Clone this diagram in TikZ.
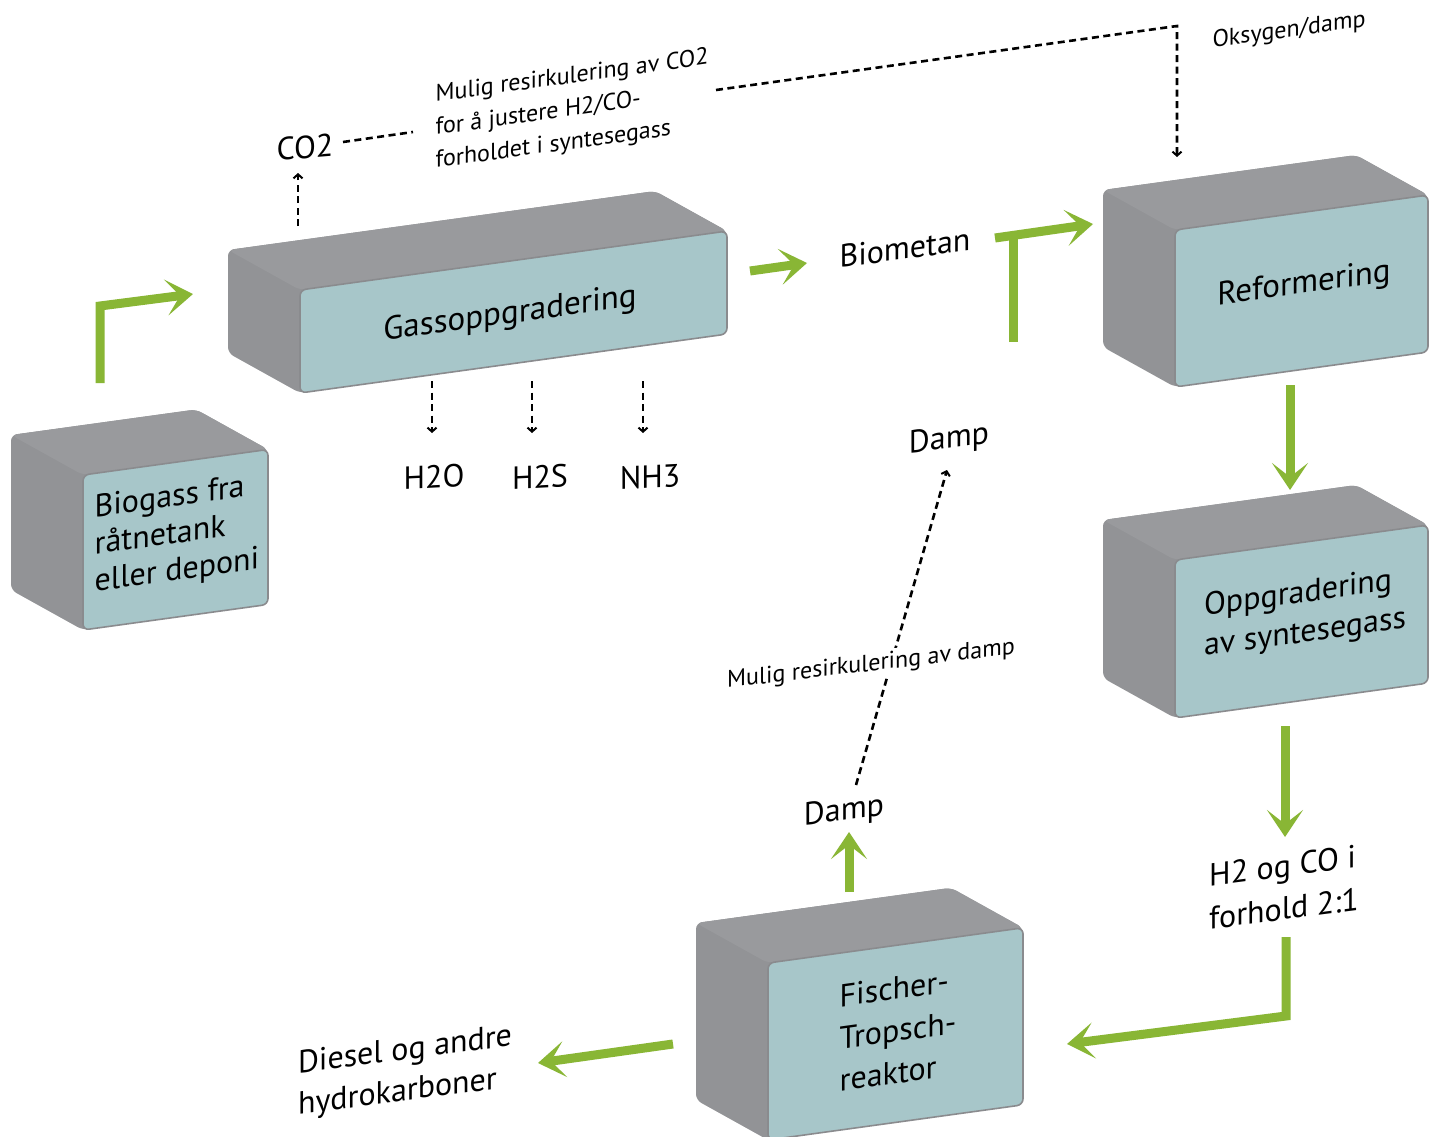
\documentclass[tikz,border=0pt]{standalone}
\usepackage{fontspec}
\setmainfont{PT Sans}
\usetikzlibrary{arrows.meta}
\definecolor{gside}{RGB}{146,147,150}
\definecolor{gtop}{RGB}{153,154,157}
\definecolor{face}{RGB}{167,198,201}
\definecolor{edgec}{RGB}{138,139,142}
\definecolor{grn}{RGB}{137,182,53}
\tikzset{
  boxtext/.style={font=\fontsize{33}{38}\selectfont, align=left, inner sep=0pt, yslant=0.138},
  biglbl/.style={font=\fontsize{32}{38}\selectfont, align=left, inner sep=0pt, yslant=0.13},
  smalllbl/.style={font=\fontsize{24}{33}\selectfont, align=left, inner sep=0pt, yslant=0.138},
  grnarrow/.style={draw=grn, line width=9pt, line join=miter,
    -{Stealth[length=27pt,width=36pt,inset=14pt]}},
  grnline/.style={draw=grn, line width=9pt},
  dashline/.style={draw=black, line width=2.6pt, dash pattern=on 7pt off 4.5pt},
  dasharrow/.style={dashline, -{Straight Barb[length=4pt,width=9pt,line width=2pt]}},
}
% name, x, y (front top-left), w, h
\newcommand\cubebox[5]{%
  \fill[gside, rounded corners=6pt] (#2-72,#3-40) -- (#2+#4-72,#3-0.138*#4-40) -- (#2+#4,#3-0.138*#4)
     -- (#2+#4,#3-0.138*#4+#5) -- (#2,#3+#5) -- (#2-72,#3+#5-40) -- cycle;
  \fill[gtop, rounded corners=6pt] (#2-72,#3-40) -- (#2+#4-72,#3-0.138*#4-40) -- (#2+#4,#3-0.138*#4)
     -- (#2,#3) -- cycle;
  \draw[edgec, line width=1.6pt, fill=face, rounded corners=6pt] (#2,#3) -- (#2+#4,#3-0.138*#4)
     -- (#2+#4,#3-0.138*#4+#5) -- (#2,#3+#5) -- cycle;
  \coordinate (#1-face) at (#2+#4/2, #3-0.069*#4+#5/2);
}
\begin{document}
\begin{tikzpicture}[x=1pt,y=-1pt]
\useasboundingbox (0,0) rectangle (1440,1137);
\fill[white] (0,0) rectangle (1440,1137);

% boxes
\cubebox{biogass}{83}{475}{185}{155}
\cubebox{gass}{300}{290}{427}{103}
\cubebox{reform}{1175}{230}{253}{157}
\cubebox{oppgr}{1175}{560}{253}{158}
\cubebox{ft}{768}{963}{255}{177}
\node[boxtext, font=\fontsize{32}{37}\selectfont] (biogass) at (177,535) {Biogass fra\\råtnetank\\eller deponi};
\node[boxtext] (gass) at (510,315) {Gassoppgradering};
\node[boxtext] (reform) at (1304,285) {Reformering};
\node[boxtext, font=\fontsize{32}{40}\selectfont] (oppgr) at (1305,614) {Oppgradering\\av syntesegass};
\node[boxtext, font=\fontsize{32}{42}\selectfont] (ft) at (898,1030) {Fischer-\\Tropsch-\\reaktor};

% labels
\node[biglbl, yslant=-0.05] (co2) at (305,147) {CO2};
\node[smalllbl] (recyc) at (572,110) {Mulig resirkulering av CO2\\for å justere H2/CO-\\forholdet i syntesegass};
\node[smalllbl] (oksy) at (1289,31) {Oksygen/damp};
\node[biglbl] (biometan) at (905,248) {Biometan};
\node[biglbl, yslant=-0.08] (h2o) at (434,477) {H2O};
\node[biglbl, yslant=-0.08] (h2s) at (540,477) {H2S};
\node[biglbl, yslant=-0.08] (nh3) at (650,477) {NH3};
\node[biglbl] (dampup) at (949,440) {Damp};
\node[biglbl] (damplo) at (844,812) {Damp};
\node[biglbl, font=\fontsize{32}{43}\selectfont] (h2co) at (1284,887) {H2 og CO i\\forhold 2:1};
\node[biglbl, font=\fontsize{32}{41}\selectfont] (diesel) at (405,1072) {Diesel og andre\\hydrokarboner};

% coordinates for connectors
\coordinate (bg-out) at (100,383);
\coordinate (bg-knee) at (100,306);
\coordinate (gass-in) at (193,294);
\coordinate (gass-out) at (750,271);
\coordinate (bm-in) at (807,263);
\coordinate (st-low) at (1013,342);
\coordinate (st-top) at (1013,234);
\coordinate (bm-left) at (995,238);
\coordinate (reform-in) at (1093,224);
\coordinate (reform-out) at (1290,385);
\coordinate (oppgr-in) at (1290,490);
\coordinate (oppgr-out) at (1285,726);
\coordinate (h2co-in) at (1285,837);
\coordinate (h2co-out) at (1286,937);
\coordinate (h2co-knee) at (1286,1016);
\coordinate (ft-in) at (1067,1044);
\coordinate (ft-out) at (673,1044);
\coordinate (diesel-in) at (538,1063);
\coordinate (ft-top) at (849,892);
\coordinate (damplo-in) at (849,832);

\coordinate (gass-co2) at (298,226);
\coordinate (co2-in) at (298,173);
\coordinate (co2-r) at (343,142);
\coordinate (rc-a) at (413,132);
\coordinate (rc-b) at (716,90);
\coordinate (ox-knee) at (1177,26);
\coordinate (reform-top) at (1177,157);
\coordinate (g-h2o) at (432,381);
\coordinate (h2o-in) at (432,433);
\coordinate (g-h2s) at (532,381);
\coordinate (h2s-in) at (532,433);
\coordinate (g-nh3) at (643,381);
\coordinate (nh3-in) at (643,433);
\coordinate (damplo-top) at (856,785);
\coordinate (dampup-in) at (947,470);

% green connectors
\draw[grnarrow] (bg-out) -- (bg-knee) -- (gass-in);
\draw[grnarrow] (gass-out) -- (bm-in);
\draw[grnline] (st-low) -- (st-top);
\draw[grnarrow] (bm-left) -- (reform-in);
\draw[grnarrow] (reform-out) -- (oppgr-in);
\draw[grnarrow] (oppgr-out) -- (h2co-in);
\draw[grnarrow] (h2co-out) -- (h2co-knee) -- (ft-in);
\draw[grnarrow] (ft-out) -- (diesel-in);
\draw[grnarrow] (ft-top) -- (damplo-in);

% dashed connectors
\draw[dasharrow] (gass-co2) -- (co2-in);
\draw[dashline] (co2-r) -- (rc-a);
\draw[dasharrow] (rc-b) -- (ox-knee) -- (reform-top);
\draw[dasharrow] (g-h2o) -- (h2o-in);
\draw[dasharrow] (g-h2s) -- (h2s-in);
\draw[dasharrow] (g-nh3) -- (nh3-in);
\draw[dasharrow] (damplo-top) -- (dampup-in);
\node[smalllbl, yslant=-0.02, fill=white, inner sep=3pt] (recdamp) at (871,665) {Mulig resirkulering av damp};
\end{tikzpicture}
\end{document}
